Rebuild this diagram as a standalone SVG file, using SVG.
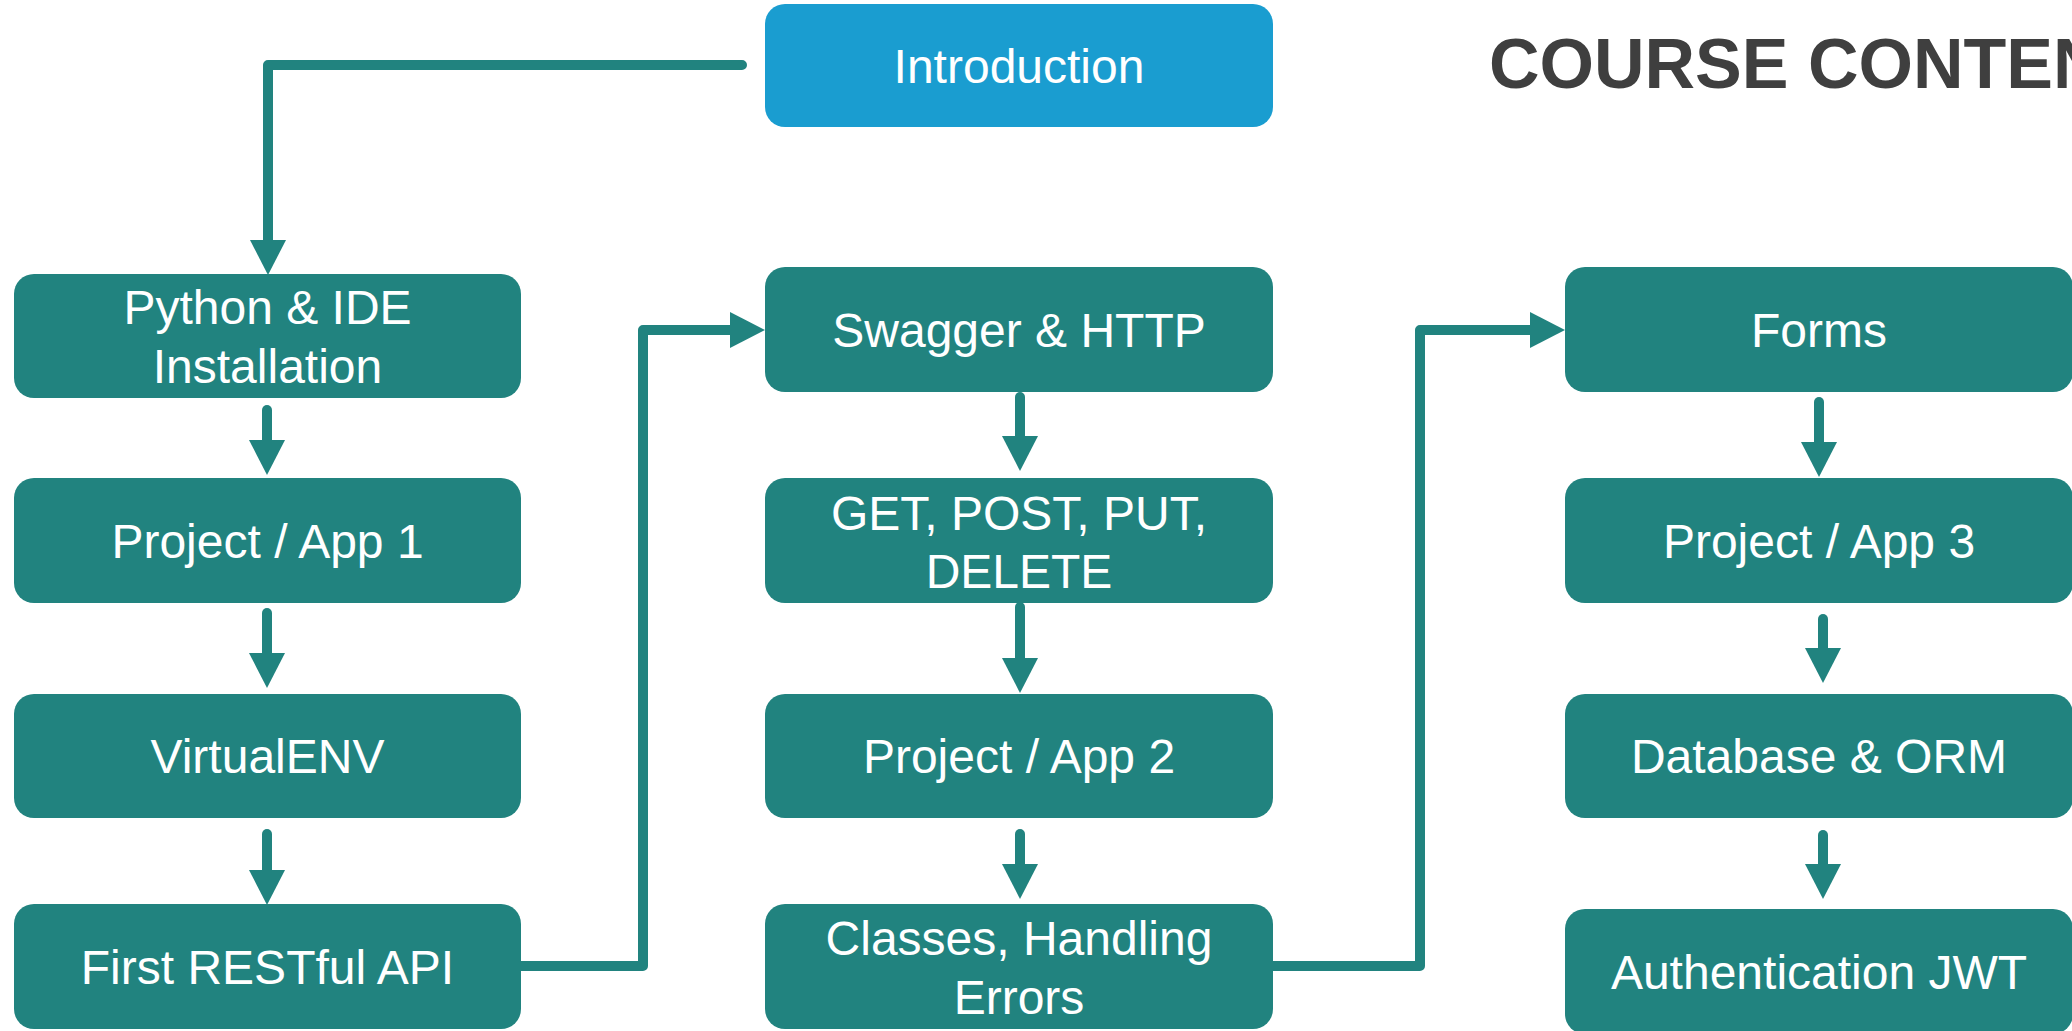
<svg xmlns="http://www.w3.org/2000/svg" width="2072" height="1031" viewBox="0 0 2072 1031">
  <style>
    .box { fill: #21837f; }
    .intro { fill: #1a9dd0; }
    .label { font-family: "Liberation Sans", Helvetica, Arial, sans-serif; font-size: 48px; fill: #ffffff; text-anchor: middle; }
    .title { font-family: "Liberation Sans", Helvetica, Arial, sans-serif; font-size: 70px; font-weight: bold; fill: #3f3f3f; }
    .wire { fill: none; stroke: #21837f; stroke-width: 10; stroke-linecap: round; stroke-linejoin: round; }
  </style>
  <defs>
    <marker id="head" markerUnits="userSpaceOnUse" markerWidth="36" markerHeight="36" refX="0" refY="18" orient="auto" viewBox="0 0 36 36">
      <path d="M0,0 L35,18 L0,36 Z" fill="#21837f"/>
    </marker>
  </defs>

  <rect width="2072" height="1031" fill="#ffffff"/>

  <text class="title" x="1489" y="88">COURSE CONTEN</text>

  <!-- connectors -->
  <g id="connectors">
    <path class="wire" d="M742,65 H268 V240" marker-end="url(#head)"/>
    <path class="wire" d="M267,410 V440" marker-end="url(#head)"/>
    <path class="wire" d="M267,613 V653" marker-end="url(#head)"/>
    <path class="wire" d="M267,834 V870" marker-end="url(#head)"/>
    <path class="wire" d="M521,966 H643 V330 H730" marker-end="url(#head)"/>
    <path class="wire" d="M1020,397 V436" marker-end="url(#head)"/>
    <path class="wire" d="M1020,607 V658" marker-end="url(#head)"/>
    <path class="wire" d="M1020,834 V864" marker-end="url(#head)"/>
    <path class="wire" d="M1273,966 H1420 V330 H1530" marker-end="url(#head)"/>
    <path class="wire" d="M1819,402 V442" marker-end="url(#head)"/>
    <path class="wire" d="M1823,619 V648" marker-end="url(#head)"/>
    <path class="wire" d="M1823,835 V864" marker-end="url(#head)"/>
  </g>

  <!-- column 1 -->
  <g id="introduction">
    <rect class="intro" x="765" y="4" width="508" height="123" rx="20"/>
    <text class="label" x="1019" y="83">Introduction</text>
  </g>
  <g id="python-ide">
    <rect class="box" x="14" y="274" width="507" height="124" rx="20"/>
    <text class="label" x="267.5" y="324">Python &amp; IDE</text>
    <text class="label" x="267.5" y="383">Installation</text>
  </g>
  <g id="project-app-1">
    <rect class="box" x="14" y="478" width="507" height="125" rx="20"/>
    <text class="label" x="267.5" y="558">Project / App 1</text>
  </g>
  <g id="virtualenv">
    <rect class="box" x="14" y="694" width="507" height="124" rx="20"/>
    <text class="label" x="267.5" y="773">VirtualENV</text>
  </g>
  <g id="first-restful-api">
    <rect class="box" x="14" y="904" width="507" height="125" rx="20"/>
    <text class="label" x="267.5" y="984">First RESTful API</text>
  </g>

  <!-- column 2 -->
  <g id="swagger-http">
    <rect class="box" x="765" y="267" width="508" height="125" rx="20"/>
    <text class="label" x="1019" y="347">Swagger &amp; HTTP</text>
  </g>
  <g id="http-methods">
    <rect class="box" x="765" y="478" width="508" height="125" rx="20"/>
    <text class="label" x="1019" y="530">GET, POST, PUT,</text>
    <text class="label" x="1019" y="588">DELETE</text>
  </g>
  <g id="project-app-2">
    <rect class="box" x="765" y="694" width="508" height="124" rx="20"/>
    <text class="label" x="1019" y="773">Project / App 2</text>
  </g>
  <g id="classes-errors">
    <rect class="box" x="765" y="904" width="508" height="125" rx="20"/>
    <text class="label" x="1019" y="955">Classes, Handling</text>
    <text class="label" x="1019" y="1014">Errors</text>
  </g>

  <!-- column 3 -->
  <g id="forms">
    <rect class="box" x="1565" y="267" width="508" height="125" rx="20"/>
    <text class="label" x="1819" y="347">Forms</text>
  </g>
  <g id="project-app-3">
    <rect class="box" x="1565" y="478" width="508" height="125" rx="20"/>
    <text class="label" x="1819" y="558">Project / App 3</text>
  </g>
  <g id="database-orm">
    <rect class="box" x="1565" y="694" width="508" height="124" rx="20"/>
    <text class="label" x="1819" y="773">Database &amp; ORM</text>
  </g>
  <g id="authentication-jwt">
    <rect class="box" x="1565" y="909" width="508" height="125" rx="20"/>
    <text class="label" x="1819" y="989">Authentication JWT</text>
  </g>
</svg>
